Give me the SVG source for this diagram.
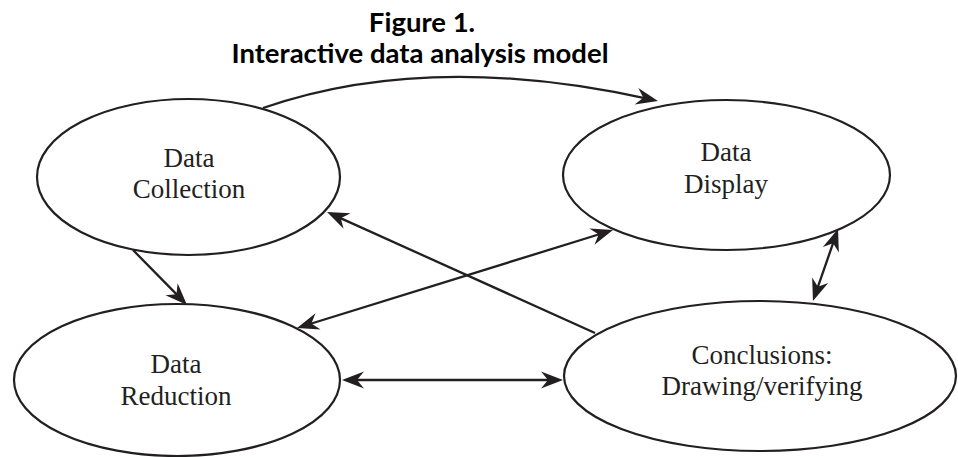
<svg xmlns="http://www.w3.org/2000/svg" width="958" height="457" viewBox="0 0 958 457">
  <style>
    .bg { fill: #ffffff; }
    .node ellipse { fill: #ffffff; stroke: #231f20; stroke-width: 2.2; }
    .label { font-family: "Liberation Serif", "Times New Roman", serif; font-size: 27px; fill: #231f20; text-anchor: middle; }
    .title { font-family: Lato, "Liberation Sans", sans-serif; font-weight: 700; font-size: 27.5px; fill: #000000; text-anchor: middle; }
    .conn path { fill: none; stroke: #231f20; stroke-width: 2.3; }
  </style>
  <defs>
    <marker id="arrow" viewBox="-20 -10 30 20" markerWidth="30" markerHeight="20" refX="0" refY="0" markerUnits="userSpaceOnUse" orient="auto-start-reverse">
      <path d="M5,0 L-17,-8.5 L-10,0 L-17,8.5 Z" fill="#231f20"/>
    </marker>
  </defs>
  <rect class="bg" x="0" y="0" width="958" height="457"/>

  <g id="title">
    <text class="title" x="422" y="32">Figure 1.</text>
    <text class="title" x="420" y="63">Interactive data analysis model</text>
  </g>

  <g id="data-collection" class="node">
    <ellipse cx="188.5" cy="177" rx="151.5" ry="78"/>
    <text class="label" x="189" y="167">Data</text>
    <text class="label" x="189" y="198">Collection</text>
  </g>

  <g id="data-display" class="node">
    <ellipse cx="726.5" cy="175" rx="163.5" ry="75"/>
    <text class="label" x="726" y="161">Data</text>
    <text class="label" x="726" y="193">Display</text>
  </g>

  <g id="data-reduction" class="node">
    <ellipse cx="177" cy="380" rx="163" ry="76"/>
    <text class="label" x="176" y="373">Data</text>
    <text class="label" x="176" y="405">Reduction</text>
  </g>

  <g id="conclusions" class="node">
    <ellipse cx="760" cy="376" rx="196" ry="75"/>
    <text class="label" x="762" y="364">Conclusions:</text>
    <text class="label" x="762" y="395">Drawing/verifying</text>
  </g>

  <g id="connectors" class="conn">
    <path d="M263,108 Q430,50 653.1,99.9" marker-end="url(#arrow)"/>
    <path d="M133,250 L183.5,301.4" marker-end="url(#arrow)"/>
    <path d="M595,333 L331.6,214.1" marker-end="url(#arrow)"/>
    <path d="M301.8,326.5 L608.2,231.5" marker-start="url(#arrow)" marker-end="url(#arrow)"/>
    <path d="M347,380 L558,380" marker-start="url(#arrow)" marker-end="url(#arrow)"/>
    <path d="M836.4,233.7 L814.6,296.3" marker-start="url(#arrow)" marker-end="url(#arrow)"/>
  </g>
</svg>
